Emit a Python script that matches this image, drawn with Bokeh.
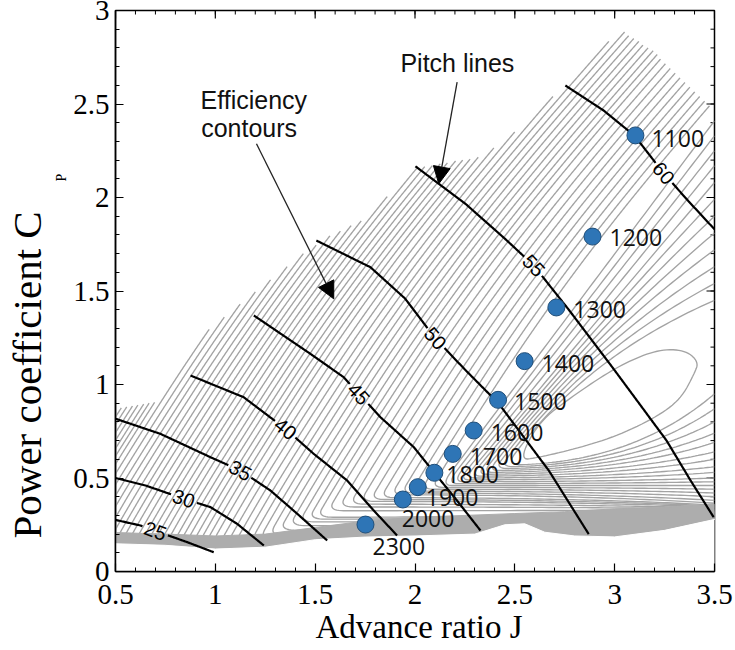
import numpy as np
from bokeh.plotting import figure
from bokeh.models import (FixedTicker, Range1d, Label, Arrow, NormalHead, Title,
                          CustomJSTickFormatter, ColumnDataSource)
from bokeh.core.properties import value
from bokeh.embed import file_html
from bokeh.resources import INLINE

# ---------------- data ----------------
rpm_labels = ["1100", "1200", "1300", "1400", "1500", "1600", "1700", "1800", "1900", "2000", "2300"]
rpm_j = [3.104, 2.889, 2.708, 2.549, 2.416, 2.294, 2.189, 2.097, 2.014, 1.939, 1.752]
rpm_cp = [2.332, 1.791, 1.412, 1.125, 0.918, 0.754, 0.629, 0.528, 0.451, 0.385, 0.251]

pitch_values = [25, 30, 35, 40, 45, 50, 55, 60]
pitch25_j = [0.50, 0.625, 0.70, 0.859, 0.992]
pitch25_cp = [0.276, 0.246, 0.217, 0.157, 0.103]
pitch30_j = [0.50, 0.65, 0.84, 0.976, 1.109, 1.243]
pitch30_cp = [0.50, 0.46, 0.39, 0.344, 0.255, 0.139]
pitch35_j = [0.50, 0.725, 0.976, 1.126, 1.276, 1.41, 1.56]
pitch35_cp = [0.817, 0.736, 0.611, 0.54, 0.433, 0.309, 0.166]
pitch40_j = [0.876, 1.142, 1.351, 1.493, 1.66, 1.79, 1.91]
pitch40_cp = [1.048, 0.932, 0.763, 0.629, 0.487, 0.33, 0.193]
pitch45_j = [1.193, 1.476, 1.643, 1.827, 1.994, 2.097, 2.21, 2.328]
pitch45_cp = [1.369, 1.164, 1.039, 0.825, 0.665, 0.528, 0.38, 0.219]
pitch50_j = [1.506, 1.777, 1.95, 2.102, 2.25, 2.42, 2.67, 2.87]
pitch50_cp = [1.77, 1.627, 1.46, 1.246, 1.08, 0.897, 0.54, 0.20]
pitch55_j = [2.002, 2.253, 2.45, 2.595, 2.77, 2.99, 3.087, 3.26, 3.38, 3.496]
pitch55_cp = [2.167, 1.966, 1.78, 1.636, 1.40, 1.09, 0.95, 0.70, 0.487, 0.29]
pitch60_j = [2.753, 2.945, 3.10, 3.245, 3.37, 3.50]
pitch60_cp = [2.599, 2.465, 2.33, 2.13, 1.98, 1.83]
pitch_label_j = [0.70, 0.842, 1.126, 1.351, 1.718, 2.102, 2.595, 3.245]
pitch_label_cp = [0.217, 0.39, 0.54, 0.763, 0.95, 1.246, 1.636, 2.13]

# efficiency contours (upper branches): J where each gray line crosses Cp = 0.6
hatch_j06 = [0.34, 0.366, 0.39, 0.416, 0.44, 0.466, 0.49, 0.515,
             0.545, 0.578, 0.611, 0.643, 0.675, 0.709, 0.741, 0.773, 0.806, 0.84, 0.872, 0.904,
             0.937, 0.969, 1.002, 1.036, 1.068, 1.10, 1.133, 1.165, 1.198, 1.231,
             1.27, 1.307, 1.345, 1.383, 1.42, 1.457, 1.495, 1.533, 1.57, 1.608, 1.646, 1.683, 1.72,
             1.765, 1.81, 1.855, 1.90, 1.945, 1.99, 2.035, 2.08, 2.125, 2.17]
# Cp at J = 3.5 of the lower branch of each of those lines
hatch_end_cp = ([0.28] * 8 + [0.28] * 12 + [0.282, 0.284, 0.286, 0.288, 0.29, 0.292, 0.294, 0.296, 0.298, 0.30] +
                [0.302, 0.304, 0.306, 0.308, 0.31, 0.312, 0.314, 0.316, 0.318, 0.32, 0.323, 0.326, 0.33] +
                [0.335, 0.34, 0.345, 0.35, 0.355, 0.365, 0.38, 0.40, 0.42, 0.44])
# upper edge of the contour map and ridge where the contours turn
edge_j = [0.45, 0.50, 0.60, 0.70, 0.72, 0.78, 1.10, 1.44, 1.58, 1.74, 2.01, 2.34, 2.51, 2.83, 3.03, 3.20, 3.31, 3.41, 3.55]
edge_cp = [0.87, 0.87, 0.89, 0.91, 0.93, 1.13, 1.41, 1.70, 1.80, 1.88, 2.16, 2.22, 2.36, 2.68, 2.90, 2.78, 2.66, 2.56, 2.42]
ridge_j = [0.0, 1.10, 1.20, 1.30, 1.41, 1.51, 1.56, 1.64, 1.72, 1.85, 2.00, 2.20]
ridge_cp = [0.15, 0.15, 0.17, 0.21, 0.26, 0.29, 0.32, 0.35, 0.37, 0.40, 0.43, 0.47]
# screen slope (degrees) of the gray lines against Cp
slope_cp = [0.0, 0.6, 1.0, 1.5, 2.0, 2.5, 3.2]
slope_deg = [62, 58, 57, 54, 51, 49, 48]

# inner contours around the efficiency peak (upper branch leaves through the right edge)
inner_tip_cp = [1.45, 1.54, 1.63, 1.72, 1.81, 1.90, 1.99, 2.08, 2.17, 2.25, 2.33, 2.41]
inner_vtx_j = [2.46, 2.43, 2.40, 2.37, 2.34, 2.31, 2.28, 2.25, 2.22, 2.19, 2.16, 2.13]
inner_vtx_cp = [0.57, 0.56, 0.55, 0.54, 0.53, 0.52, 0.51, 0.50, 0.49, 0.48, 0.47, 0.46]
inner_end_cp = [0.95, 0.87, 0.80, 0.74, 0.69, 0.64, 0.60, 0.56, 0.53, 0.50, 0.48, 0.46]

# innermost (peak efficiency) closed contour
loop_j = [2.52, 2.62, 2.78, 2.96, 3.10, 3.24, 3.36, 3.42, 3.40, 3.33, 3.20, 3.00, 2.80, 2.62]
loop_cp = [0.595, 0.80, 0.93, 1.06, 1.14, 1.19, 1.18, 1.12, 1.06, 0.92, 0.82, 0.72, 0.655, 0.61]

# dense band along the lower edge of the map
band_top_j = [0.45, 0.75, 1.0, 1.25, 1.5, 1.75, 2.0, 2.25, 2.5, 2.75, 3.0, 3.25, 3.55]
band_top_cp = [0.21, 0.20, 0.19, 0.20, 0.235, 0.27, 0.29, 0.30, 0.31, 0.32, 0.335, 0.345, 0.36]
band_bot_j = [0.45, 0.75, 1.0, 1.25, 1.5, 1.75, 2.0, 2.3, 2.45, 2.55, 2.65, 2.8, 3.0, 3.25, 3.55]
band_bot_cp = [0.15, 0.14, 0.12, 0.13, 0.17, 0.184, 0.19, 0.20, 0.25, 0.255, 0.21, 0.19, 0.185, 0.22, 0.29]

x_ticks = [0.5, 1.0, 1.5, 2.0, 2.5, 3.0, 3.5]
y_ticks = [0.0, 0.5, 1.0, 1.5, 2.0, 2.5, 3.0]
x_minor = [round(0.5 + 0.1 * k, 1) for k in range(31)]
y_minor = [round(0.1 * k, 1) for k in range(31)]

# ---------------- layout / style ----------------
FRAME_W, FRAME_H = 599, 561
B_LEFT, B_RIGHT, B_TOP = 115, 21, 10
KX, KY = FRAME_W / 3.0, FRAME_H / 3.0
GRAY = "#a3a3a3"


def to_px(j, cp):
    return np.array([(j - 0.5) * KX, cp * KY], dtype=float)


def to_data(P):
    P = np.asarray(P)
    return list(P[:, 0] / KX + 0.5), list(P[:, 1] / KY)


def bez(p0, p1, p2, n=44):
    t = np.linspace(0.0, 1.0, n)[:, None]
    return (1 - t) ** 2 * p0 + 2 * t * (1 - t) * p1 + t ** 2 * p2


# horizontal drift of a gray line against Cp (all upper branches share this shape)
cgrid = np.arange(0.0, 3.21, 0.005)
cot = 1.0 / np.tan(np.radians(np.interp(cgrid, slope_cp, slope_deg)))
drift = np.concatenate([[0.0], np.cumsum(0.5 * (cot[1:] + cot[:-1]) * np.diff(cgrid))]) * KY / KX
drift06 = np.interp(0.6, cgrid, drift)


def arc_index(P, R):
    d = np.concatenate([[0], np.cumsum(np.hypot(*np.diff(P, axis=0).T))])
    return min(max(int(np.searchsorted(d, R)), 1), len(P) - 1)


def join_round(top, bot, R=9.0):
    """top: from vertex to tip, bot: from vertex to end; round the corner"""
    V = top[0]
    kt, kb = arc_index(top, R), arc_index(bot, R)
    corner = bez(top[kt], V, bot[kb], 12)
    return np.vstack([top[kt:][::-1], corner, bot[kb:]])


def lower_branch(V, ec):
    E = to_px(3.5, ec)
    Cb = np.array([V[0] + 0.6 * (E[0] - V[0]), V[1]])
    return bez(V, Cb, E, 60)


cx, cy = [], []
for j06, ec in zip(hatch_j06, hatch_end_cp):
    xs = j06 + drift - drift06
    inside = cgrid < np.interp(xs, edge_j, edge_cp)
    above = cgrid > np.interp(xs, ridge_j, ridge_cp)
    i06 = int(np.searchsorted(cgrid, 0.6))
    hi = i06
    while hi + 1 < len(cgrid) and inside[hi + 1]:
        hi += 1
    lo = i06
    while lo - 1 >= 0 and above[lo - 1]:
        lo -= 1
    top = np.array([to_px(xs[k], cgrid[k]) for k in range(lo, hi + 1)])
    path = join_round(top, lower_branch(top[0], ec))
    dx, dy = to_data(path)
    cx.append(dx)
    cy.append(dy)

for tc, vj, vc, ec in zip(inner_tip_cp, inner_vtx_j, inner_vtx_cp, inner_end_cp):
    V, T = to_px(vj, vc), to_px(3.5, tc)
    d = T - V
    ang = np.degrees(np.arctan2(d[1], d[0]))
    a = float(np.clip(0.5 - 0.0125 * (50.0 - ang), 0.25, 0.5))
    top = bez(V, V + np.array([a * d[0], (1 - a) * d[1]]), T, 60)
    dx, dy = to_data(join_round(top, lower_branch(V, ec)))
    cx.append(dx)
    cy.append(dy)

LP = np.array([to_px(j, c) for j, c in zip(loop_j, loop_cp)])
for _ in range(3):
    N = np.roll(LP, -1, axis=0)
    out = np.empty((2 * len(LP), 2))
    out[0::2], out[1::2] = 0.75 * LP + 0.25 * N, 0.25 * LP + 0.75 * N
    LP = out
LP = np.vstack([LP, LP[:1]])
lx, ly = to_data(LP)


def pitch_segments(js, cps, lab_j, lab_cp, r=13.0):
    P = np.array([to_px(j, c) for j, c in zip(js, cps)])
    dense = [P[0]]
    for a_, b_ in zip(P[:-1], P[1:]):
        n = max(2, int(np.hypot(*(b_ - a_))))
        for k in range(1, n + 1):
            dense.append(a_ + (b_ - a_) * k / n)
    dense = np.array(dense)
    L = to_px(lab_j, lab_cp)
    dist = np.hypot(*(dense - L).T)
    i0 = int(np.argmin(dist))
    i1, i2 = max(0, i0 - 10), min(len(dense) - 1, i0 + 10)
    dv = dense[i2] - dense[i1]
    angle = float(np.arctan2(dv[1], dv[0]))
    segs, cur = [], []
    for pt, k in zip(dense, dist > r):
        if k:
            cur.append(pt)
        elif cur:
            segs.append(np.array(cur))
            cur = []
    if cur:
        segs.append(np.array(cur))
    return [to_data(s) for s in segs if len(s) > 1], angle


pitch_lines = [(pitch25_j, pitch25_cp), (pitch30_j, pitch30_cp), (pitch35_j, pitch35_cp),
               (pitch40_j, pitch40_cp), (pitch45_j, pitch45_cp), (pitch50_j, pitch50_cp),
               (pitch55_j, pitch55_cp), (pitch60_j, pitch60_cp)]
px_, py_, angles = [], [], []
for (js, cps), lj, lc in zip(pitch_lines, pitch_label_j, pitch_label_cp):
    segs, ang = pitch_segments(js, cps, lj, lc)
    for sx, sy in segs:
        px_.append(sx)
        py_.append(sy)
    angles.append(ang)

# ---------------- figure ----------------
p = figure(frame_width=FRAME_W, frame_height=FRAME_H, x_range=Range1d(0.5, 3.5), y_range=Range1d(0, 3),
           output_backend="svg", toolbar_location=None, title=None,
           min_border_left=B_LEFT, min_border_right=B_RIGHT, min_border_top=B_TOP, min_border_bottom=0)
p.grid.visible = False
p.outline_line_color = "black"
p.outline_line_width = 1.5
p.background_fill_color = "white"
p.border_fill_color = "white"

fmt = CustomJSTickFormatter(code="return tick.toString();")
for ax, tk, mt in [(p.xaxis[0], x_ticks, x_minor), (p.yaxis[0], y_ticks, y_minor)]:
    ax.ticker = FixedTicker(ticks=tk, minor_ticks=mt)
    ax.formatter = fmt
    ax.major_tick_in = 8
    ax.major_tick_out = 0
    ax.minor_tick_in = 4
    ax.minor_tick_out = 0
    ax.axis_line_width = 1.5
    ax.major_tick_line_width = 1.2
    ax.minor_tick_line_width = 1.0
    ax.major_label_text_font = "Liberation Serif"
    ax.major_label_text_font_size = "29px"
    ax.major_label_text_color = "black"
p.xaxis.major_label_standoff = 13
p.yaxis.major_label_standoff = 6

# axis titles
p.add_layout(Title(text="Advance ratio J", align="left", offset=200, standoff=0, vertical_align="bottom",
                   text_font="Liberation Serif", text_font_size="33px", text_font_style="normal",
                   text_color="black"), "below")
p.add_layout(Title(text="P", align="left", offset=390, standoff=4, text_font="Liberation Serif",
                   text_font_size="14px", text_font_style="normal", text_color="black"), "left")
p.add_layout(Title(text="Power coefficient C", align="left", offset=33, standoff=0,
                   text_font="Liberation Serif", text_font_size="41px", text_font_style="normal",
                   text_color="black"), "left")

# tick marks on the top and right edges
maj_y, min_y = 8 / KY, 4 / KY
maj_x, min_x = 8 / KX, 4 / KX
p.segment(x0=x_ticks, y0=[3] * len(x_ticks), x1=x_ticks, y1=[3 - maj_y] * len(x_ticks),
          line_color="black", line_width=1.2)
p.segment(x0=x_minor, y0=[3] * len(x_minor), x1=x_minor, y1=[3 - min_y] * len(x_minor),
          line_color="black", line_width=1.0)
p.segment(x0=[3.5] * len(y_ticks), y0=y_ticks, x1=[3.5 - maj_x] * len(y_ticks), y1=y_ticks,
          line_color="black", line_width=1.2)
p.segment(x0=[3.5] * len(y_minor), y0=y_minor, x1=[3.5 - min_x] * len(y_minor), y1=y_minor,
          line_color="black", line_width=1.0)

# gray efficiency contours
p.multi_line(cx, cy, line_color=GRAY, line_width=1.35)
p.line(lx, ly, line_color=GRAY, line_width=1.35)
p.patch(band_top_j + band_bot_j[::-1], band_top_cp + band_bot_cp[::-1],
        fill_color="#adadad", line_color="#adadad", line_width=1)
p.patch(band_bot_j + [3.6, 0.4], band_bot_cp + [-0.2, -0.2],
        fill_color="white", line_color="white", line_width=1)

# pitch lines with labels
p.multi_line(px_, py_, line_color="black", line_width=2.2)
p.text(x=pitch_label_j, y=pitch_label_cp, text=[str(v) for v in pitch_values], angle=angles,
       text_align="center", text_baseline="middle", text_font=value("Liberation Sans"),
       text_font_size="20px", text_color="black")

# annotations
p.add_layout(Arrow(end=NormalHead(size=17, fill_color="black", line_color="black"),
                   x_start=1.206, y_start=2.287, x_end=1.593, y_end=1.458,
                   line_width=1.3, line_color="#222222"))
p.add_layout(Arrow(end=NormalHead(size=17, fill_color="black", line_color="black"),
                   x_start=2.211, y_start=2.617, x_end=2.119, y_end=2.073,
                   line_width=1.3, line_color="#222222"))
for txt, xj, yc in [("Efficiency", 0.926, 2.524), ("contours", 0.929, 2.371), ("Pitch lines", 1.927, 2.717)]:
    p.add_layout(Label(x=xj, y=yc, text=txt, text_font="Liberation Sans", text_font_size="25px",
                       text_color="#111111", text_baseline="alphabetic", text_align="left"))

# operating points
src = ColumnDataSource(dict(x=rpm_j, y=rpm_cp, t=rpm_labels,
                            dx=[16, 17, 17, 17, 16, 17, 17, 12, 8, -1, 7],
                            dy=[3, 1, 2, 2, 2, 2, 3, 2, 10, 19, 22]))
p.scatter("x", "y", source=src, size=17, fill_color="#2E75B6", line_color="#1F4E79", line_width=1)
p.text("x", "y", text="t", source=src, x_offset="dx", y_offset="dy", text_align="left",
       text_baseline="middle", text_font=value("Open Sans"), text_font_size="23px", text_color="#111111")

open("out.html", "w").write(file_html(p, INLINE))
